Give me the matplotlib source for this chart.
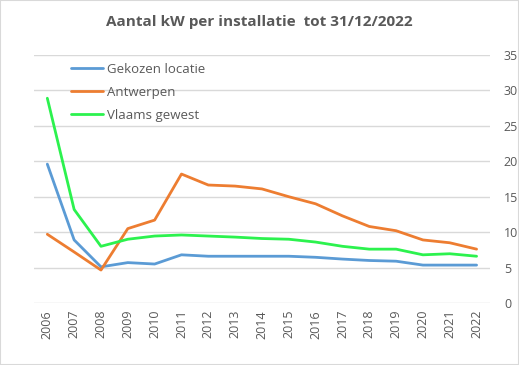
import matplotlib
matplotlib.use("Agg")
import matplotlib.pyplot as plt
from matplotlib.patches import Rectangle

years = [str(y) for y in range(2006, 2023)]
gekozen = [19.6, 8.9, 5.1, 5.7, 5.5, 6.8, 6.6, 6.6, 6.6, 6.6, 6.45, 6.2, 6.0, 5.9, 5.35, 5.35, 5.35]
antwerpen = [9.7, 7.2, 4.65, 10.5, 11.7, 18.2, 16.65, 16.5, 16.1, 15.0, 14.0, 12.3, 10.8, 10.2, 8.9, 8.5, 7.6]
vlaams = [28.9, 13.2, 8.0, 9.0, 9.45, 9.6, 9.45, 9.3, 9.1, 9.0, 8.6, 8.0, 7.6, 7.6, 6.8, 6.95, 6.6]
yticks = [0, 5, 10, 15, 20, 25, 30, 35]

plt.rcParams['font.family'] = ['Open Sans', 'DejaVu Sans']
txt = '#595959'

fig = plt.figure(figsize=(5.19, 3.65), dpi=100)
fig.patches.append(Rectangle((0, 0), 1, 1, transform=fig.transFigure, fill=False,
                             edgecolor='#d9d9d9', linewidth=1.5))
ax = fig.add_axes([33.9/519, 1-303/365, (490-33.9)/519, (303-55)/365])

x = list(range(len(years)))
ax.plot(x, gekozen, color='#5B9BD5', lw=2.0, label='Gekozen locatie', solid_capstyle='round')
ax.plot(x, antwerpen, color='#ED7D31', lw=2.0, label='Antwerpen', solid_capstyle='round')
ax.plot(x, vlaams, color='#2CF24E', lw=2.0, label='Vlaams gewest', solid_capstyle='round')

ax.set_xlim(-0.5, len(years)-0.5)
ax.set_ylim(0, 35)
ax.set_yticks(yticks)
ax.yaxis.tick_right()
ax.set_xticks(x)
ax.set_xticklabels(years, rotation=90)
ax.tick_params(axis='both', length=0, colors=txt, labelsize=9)
ax.tick_params(axis='y', pad=10)
ax.tick_params(axis='x', pad=5)
ax.grid(axis='y', color='#d9d9d9', lw=1)
ax.set_axisbelow(True)
for s in ax.spines.values():
    s.set_visible(False)

fig.text(0.5, 1-22/365, 'Aantal kW per installatie  tot 31/12/2022', ha='center', va='center',
         fontsize=11, fontweight='bold', color=txt)

leg = ax.legend(loc='upper left', bbox_to_anchor=(0.07, 0.99), frameon=False, fontsize=9.5,
                borderaxespad=0, handlelength=2.4, labelspacing=0.75, handletextpad=0.3)
for t in leg.get_texts():
    t.set_color(txt)

fig.savefig('out.png', dpi=100)
